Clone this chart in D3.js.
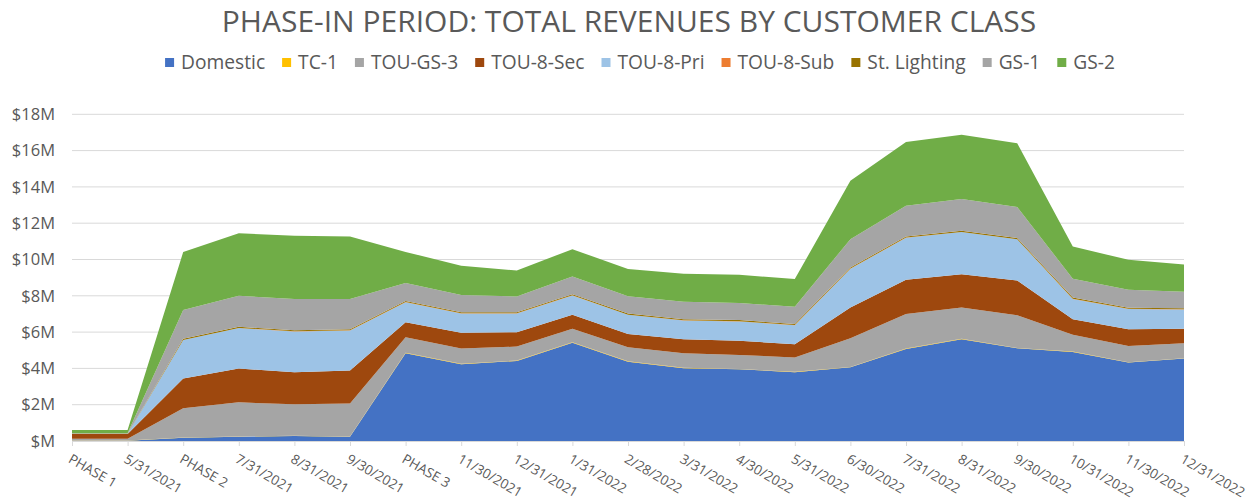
<!DOCTYPE html>
<html>
<head>
<meta charset="utf-8">
<script src="https://cdn.jsdelivr.net/npm/d3@7"></script>
<style>
  body { margin: 0; background: #fff; }
  svg { font-family: "Open Sans", "Noto Sans", sans-serif; }
</style>
</head>
<body>
<svg id="chart" width="1256" height="500"></svg>
<script>
// categorias del eje X
var categories = ["PHASE 1", "5/31/2021", "PHASE 2", "7/31/2021", "8/31/2021", "9/30/2021", "PHASE 3",
  "11/30/2021", "12/31/2021", "1/31/2022", "2/28/2022", "3/31/2022", "4/30/2022", "5/31/2022",
  "6/30/2022", "7/31/2022", "8/31/2022", "9/30/2022", "10/31/2022", "11/30/2022", "12/31/2022"];

// valores en millones de dolares
var domestic  = [0.02, 0.02, 0.18, 0.24, 0.28, 0.24, 4.84, 4.23, 4.41, 5.42, 4.37, 4.01, 3.95, 3.79, 4.06, 5.07, 5.61, 5.11, 4.91, 4.32, 4.54];
var tc1       = [0.01, 0.01, 0.01, 0.01, 0.01, 0.01, 0.02, 0.02, 0.02, 0.02, 0.02, 0.02, 0.02, 0.02, 0.02, 0.02, 0.02, 0.02, 0.02, 0.02, 0.02];
var touGs3    = [0.10, 0.10, 1.61, 1.88, 1.73, 1.81, 0.85, 0.84, 0.77, 0.74, 0.78, 0.81, 0.77, 0.79, 1.58, 1.91, 1.72, 1.80, 0.92, 0.90, 0.83];
var tou8Sec   = [0.25, 0.25, 1.64, 1.86, 1.77, 1.82, 0.83, 0.88, 0.79, 0.77, 0.73, 0.77, 0.78, 0.73, 1.69, 1.88, 1.84, 1.91, 0.86, 0.92, 0.80];
var tou8Pri   = [0.01, 0.01, 2.12, 2.23, 2.24, 2.21, 1.11, 1.06, 1.04, 1.07, 1.05, 1.03, 1.07, 1.05, 2.14, 2.32, 2.32, 2.27, 1.12, 1.11, 1.06];
var tou8Sub   = [0.00, 0.00, 0.01, 0.01, 0.01, 0.01, 0.01, 0.01, 0.01, 0.01, 0.01, 0.01, 0.01, 0.01, 0.01, 0.01, 0.01, 0.01, 0.01, 0.01, 0.01];
var stLight   = [0.01, 0.01, 0.06, 0.06, 0.06, 0.06, 0.06, 0.06, 0.06, 0.06, 0.06, 0.06, 0.06, 0.06, 0.06, 0.06, 0.06, 0.06, 0.06, 0.06, 0.06];
var gs1       = [0.03, 0.03, 1.59, 1.71, 1.73, 1.67, 0.99, 0.95, 0.86, 0.97, 0.96, 0.96, 0.94, 0.94, 1.56, 1.69, 1.75, 1.71, 1.04, 0.99, 0.90];
var gs2       = [0.17, 0.17, 3.19, 3.45, 3.48, 3.44, 1.71, 1.60, 1.43, 1.51, 1.49, 1.54, 1.56, 1.53, 3.22, 3.51, 3.55, 3.51, 1.78, 1.65, 1.50];

var seriesNames = ["Domestic", "TC-1", "TOU-GS-3", "TOU-8-Sec", "TOU-8-Pri", "TOU-8-Sub", "St. Lighting", "GS-1", "GS-2"];
var seriesColors = ["#4472C4", "#FFC000", "#A5A5A5", "#9E480E", "#9DC3E6", "#ED7D31", "#997300", "#A5A5A5", "#70AD47"];
var seriesValues = [domestic, tc1, touGs3, tou8Sec, tou8Pri, tou8Sub, stLight, gs1, gs2];
var yTicks = [0, 2, 4, 6, 8, 10, 12, 14, 16, 18];

var svg = d3.select("#chart");
var textColor = "#595959";

// tabla para d3.stack
var table = categories.map(function(c, i) {
  var row = { cat: c };
  seriesNames.forEach(function(n, k) { row[n] = seriesValues[k][i]; });
  return row;
});

var x = d3.scalePoint().domain(categories).range([72, 1184]);
var y = d3.scaleLinear().domain([0, 18]).range([441, 114.3]);

/* Titulo */
svg.append("text")
  .attr("x", 629)
  .attr("y", 32)
  .attr("text-anchor", "middle")
  .attr("font-size", "30px")
  .attr("fill", textColor)
  .text("PHASE-IN PERIOD: TOTAL REVENUES BY CUSTOMER CLASS");

// lineas de la grilla
svg.append("g")
  .selectAll("line")
  .data(yTicks.filter(function(d) { return d > 0; }))
  .enter().append("line")
  .attr("x1", 72).attr("x2", 1184)
  .attr("y1", function(d) { return y(d); })
  .attr("y2", function(d) { return y(d); })
  .attr("stroke", "#D9D9D9")
  .attr("stroke-width", 1);

// areas apiladas
var stack = d3.stack().keys(seriesNames);
var layers = stack(table);

var area = d3.area()
  .x(function(d) { return x(d.data.cat); })
  .y0(function(d) { return y(d[0]); })
  .y1(function(d) { return y(d[1]); });

svg.append("g")
  .selectAll("path")
  .data(layers)
  .enter().append("path")
  .attr("fill", function(d, i) { return seriesColors[i]; })
  .attr("d", area);

// eje Y
var yAxis = svg.append("g")
  .attr("transform", "translate(72,0)")
  .call(d3.axisLeft(y).tickValues(yTicks).tickSize(0).tickPadding(17)
    .tickFormat(function(d) { return "$" + (d === 0 ? "" : d) + "M"; }));
yAxis.select(".domain").remove();
yAxis.selectAll("text")
  .attr("font-size", "16.5px")
  .attr("font-family", "Open Sans")
  .attr("fill", textColor);

// eje X
var xAxis = svg.append("g")
  .attr("transform", "translate(0,441)")
  .call(d3.axisBottom(x).tickSize(5).tickSizeOuter(0));
xAxis.select(".domain").attr("stroke", "#D9D9D9").attr("d", "M72,0.5H1184");
xAxis.selectAll(".tick line").attr("stroke", "#D9D9D9");
xAxis.selectAll("text")
  .attr("font-size", "13.5px")
  .attr("font-family", "Open Sans")
  .attr("fill", textColor)
  .attr("text-anchor", "start")
  .attr("y", 0)
  .attr("dy", "0.75em")
  .attr("transform", "translate(0,12) rotate(30)");

// leyenda
var legend = svg.append("g");
var items = legend.selectAll("g")
  .data(seriesNames)
  .enter().append("g");

items.append("text")
  .attr("y", 69)
  .attr("font-size", "19.2px")
  .attr("fill", textColor)
  .text(function(d) { return d; });

var pos = 0, gap = 17;
var offsets = [];
items.each(function(d, i) {
  var w = d3.select(this).select("text").node().getComputedTextLength();
  offsets.push(pos);
  pos += 9 + 7 + w + gap;
});
var total = pos - gap;
var start = 640 - total / 2;

items.attr("transform", function(d, i) { return "translate(" + (start + offsets[i]) + ",0)"; });
items.append("rect")
  .attr("x", 0).attr("y", 58)
  .attr("width", 9).attr("height", 9)
  .attr("fill", function(d, i) { return seriesColors[i]; });
items.select("text").attr("x", 16);
</script>
</body>
</html>
